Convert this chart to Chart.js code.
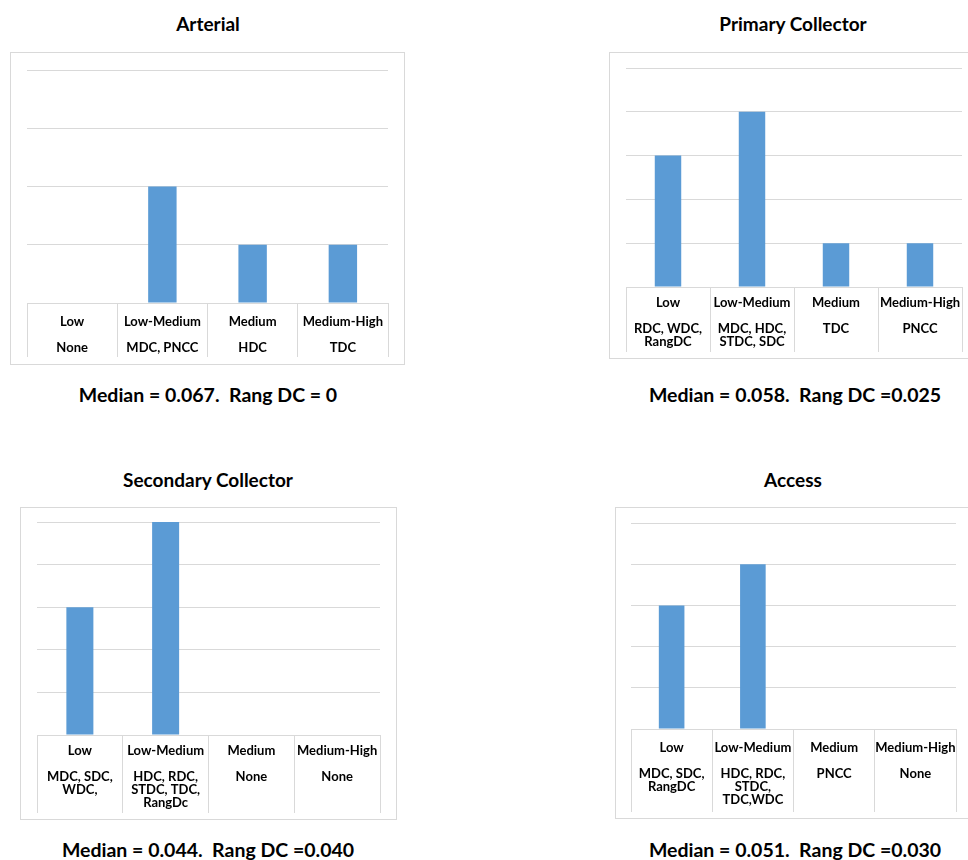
<!DOCTYPE html>
<html>
<head>
<meta charset="utf-8">
<script src="https://cdn.jsdelivr.net/npm/chart.js@4.4.1/dist/chart.umd.min.js"></script>
<style>
  body { margin: 0; background: #fff; width: 968px; height: 860px; overflow: hidden; position: relative; font-family: Lato, sans-serif; }
  .title, .note { position: absolute; width: 420px; text-align: center; font-weight: bold; color: #000; line-height: 1; }
  .title { font-size: 19px; }
  .note { font-size: 19.5px; }
  .box { position: absolute; border: 1px solid #d9d9d9; box-sizing: border-box; }
  .box canvas { position: absolute; left: 0; top: 0; }
</style>
</head>
<body>
<div class="title" style="left:-2px; top:14px;">Arterial</div>
<div class="title" style="left:583px; top:14px;">Primary Collector</div>
<div class="title" style="left:-2px; top:470px;">Secondary Collector</div>
<div class="title" style="left:583px; top:470px;">Access</div>

<div class="box" id="box1" style="left:10px; top:52px; width:395px; height:313px;"><canvas id="c1"></canvas></div>
<div class="box" id="box2" style="left:609px; top:52px; width:370px; height:307px;"><canvas id="c2"></canvas></div>
<div class="box" id="box3" style="left:20px; top:507px; width:377px; height:313px;"><canvas id="c3"></canvas></div>
<div class="box" id="box4" style="left:615px; top:507px; width:358px; height:312px;"><canvas id="c4"></canvas></div>

<div class="note" style="left:-2px; top:385px;">Median = 0.067.&nbsp; Rang DC = 0</div>
<div class="note" style="left:585px; top:385px;">Median = 0.058.&nbsp; Rang DC =0.025</div>
<div class="note" style="left:-2px; top:840px;">Median = 0.044.&nbsp; Rang DC =0.040</div>
<div class="note" style="left:585px; top:840px;">Median = 0.051.&nbsp; Rang DC =0.030</div>

<script>
// categorias y valores de cada grafica
const categories = ['Low', 'Low-Medium', 'Medium', 'Medium-High'];

const arterialValues = [0, 2, 1, 1];
const arterialGroups = [['None'], ['MDC, PNCC'], ['HDC'], ['TDC']];

const primaryValues = [3, 4, 1, 1];
const primaryGroups = [['RDC, WDC,', 'RangDC'], ['MDC, HDC,', 'STDC, SDC'], ['TDC'], ['PNCC']];

const secondaryValues = [3, 5, 0, 0];
const secondaryGroups = [['MDC, SDC,', 'WDC,'], ['HDC, RDC,', 'STDC, TDC,', 'RangDc'], ['None'], ['None']];

const accessValues = [3, 4, 0, 0];
const accessGroups = [['MDC, SDC,', 'RangDC'], ['HDC, RDC,', 'STDC,', 'TDC,WDC'], ['PNCC'], ['None']];

const yMaxes = [4, 5, 5, 5];

const LINE = 13;

function drawPanel(id, values, groups, yMax, lay) {
  const box = document.getElementById('box' + id);
  const canvas = document.getElementById('c' + id);
  const w = box.clientWidth, h = box.clientHeight;
  canvas.width = w; canvas.height = h;
  canvas.style.width = w + 'px'; canvas.style.height = h + 'px';

  const labels = categories.map((c, i) => [c, ''].concat(groups[i]));

  new Chart(canvas, {
    type: 'bar',
    data: {
      labels: labels,
      datasets: [{
        data: values,
        backgroundColor: '#5b9bd5',
        borderWidth: 0,
        categoryPercentage: 1,
        barPercentage: 0.315
      }]
    },
    options: {
      responsive: false,
      animation: false,
      events: [],
      layout: { padding: { left: lay.left, right: lay.right, top: lay.top, bottom: lay.bottom } },
      plugins: { legend: { display: false }, tooltip: { enabled: false } },
      scales: {
        x: {
          grid: { color: '#d9d9d9', drawOnChartArea: false, drawTicks: true, tickLength: lay.table, offset: true },
          border: { display: true, color: '#d9d9d9' },
          ticks: {
            color: '#000',
            font: { family: 'Lato', weight: 'bold', size: 13, lineHeight: LINE + 'px' },
            padding: lay.first - lay.table - LINE / 2,
            maxRotation: 0, autoSkip: false
          },
          afterFit: s => { s.height = lay.table; }
        },
        y: {
          min: 0, max: yMax,
          ticks: { display: false, stepSize: 1 },
          grid: { color: '#d9d9d9', drawTicks: false },
          border: { display: false },
          afterFit: s => { s.width = 0; }
        }
      }
    }
  });
}

document.fonts.load('bold 13px Lato').then(() => {
  drawPanel(1, arterialValues, arterialGroups, yMaxes[0], { left: 16, right: 16, top: 17, bottom: 7, table: 54, first: 19 });
  drawPanel(2, primaryValues, primaryGroups, yMaxes[1], { left: 16, right: 16, top: 15, bottom: 6, table: 65, first: 16 });
  drawPanel(3, secondaryValues, secondaryGroups, yMaxes[2], { left: 16, right: 16, top: 14, bottom: 6, table: 78, first: 16 });
  drawPanel(4, accessValues, accessGroups, yMaxes[3], { left: 15, right: 16, top: 15, bottom: 6, table: 83, first: 19 });
});
</script>
</body>
</html>
